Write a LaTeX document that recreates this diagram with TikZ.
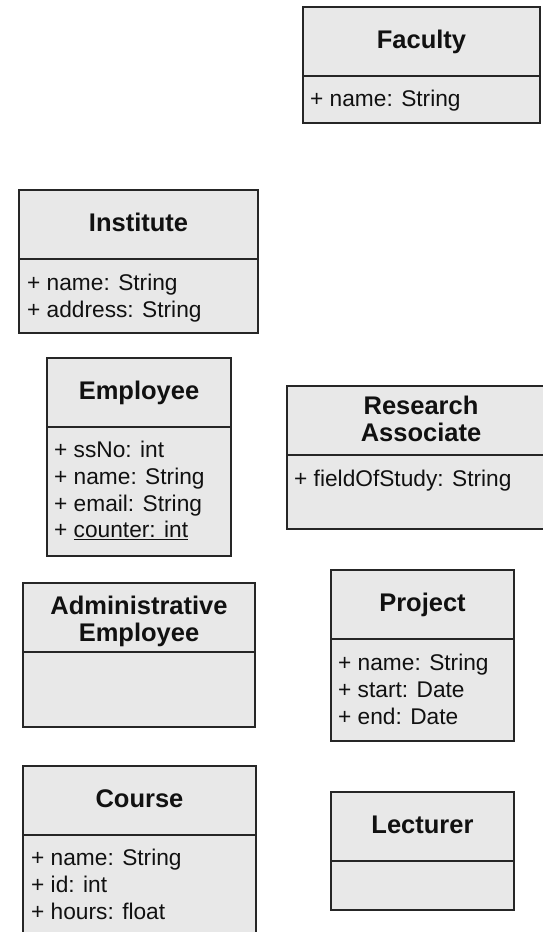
\documentclass[tikz,border=0pt]{standalone}
\usepackage{fontspec}
\setmainfont{Liberation Sans}
\usepackage{tikz}
\usetikzlibrary{positioning}
\definecolor{boxgray}{RGB}{232,232,232}
\definecolor{linedark}{RGB}{38,38,38}
\definecolor{inkdark}{RGB}{17,17,17}
\newcommand{\clstitlefont}{\fontsize{25.5}{27}\selectfont\bfseries}
\newcommand{\clsattrfont}{\fontsize{22.7}{26.7}\selectfont}
\tikzset{
  classhead/.style={rectangle, draw=linedark, fill=boxgray, line width=1.8pt,
    inner sep=0pt, outer sep=0pt, minimum height=69pt, text=inkdark,
    font=\clstitlefont, text height=18pt, text depth=5pt},
  twohead/.style={classhead, text width=#1, align=center},
  classbody/.style={rectangle, draw=linedark, fill=boxgray, line width=1.8pt,
    inner sep=0pt, outer sep=0pt},
  attrtext/.style={anchor=north west, inner sep=0pt, align=left,
    text=inkdark, font=\clsattrfont}
}

\begin{document}
\begin{tikzpicture}[x=1pt, y=-1pt]
  \path[use as bounding box, fill=white] (0,0) rectangle (542,932);

  % Faculty (top right)
  \node[classhead, minimum width=237pt, anchor=north west] (fac) at (303,7) {Faculty};
  \node[classbody, minimum width=237pt, minimum height=47pt, below=0pt of fac] (facbody) {};
  \node[attrtext] (facattr) at ([xshift=7pt, yshift=-14pt]fac.south west) {+ name: String};

  % Institute
  \node[classhead, minimum width=239pt, anchor=north west] (inst) at (19,190) {Institute};
  \node[classbody, minimum width=239pt, minimum height=74pt, below=0pt of inst] (instbody) {};
  \node[attrtext] (instattr) at ([xshift=8pt, yshift=-15pt]inst.south west)
    {+ name: String\\+ address: String};

  % Employee
  \node[classhead, minimum width=184pt, anchor=north west] (emp) at (47,358) {Employee};
  \node[classbody, minimum width=184pt, minimum height=129pt, below=0pt of emp] (empbody) {};
  \node[attrtext] (empattr) at ([xshift=7pt, yshift=-14pt]emp.south west)
    {+ ssNo: int\\+ name: String\\+ email: String\\+ \underline{counter: int}};

  % Research Associate (runs past the right edge)
  \node[twohead=250pt, minimum width=268pt, text depth=31pt, anchor=north west] (ra) at (287,386)
    {Research\\Associate};
  \node[classbody, minimum width=268pt, minimum height=74pt, below=0pt of ra] (rabody) {};
  \node[attrtext] (raattr) at ([xshift=7pt, yshift=-15pt]ra.south west) {+ fieldOfStudy: String};

  % Administrative Employee
  \node[twohead=220pt, minimum width=232pt, text depth=24pt, anchor=north west] (adm) at (23,583)
    {Administrative\\Employee};
  \node[classbody, minimum width=232pt, minimum height=75pt, below=0pt of adm] (admbody) {};

  % Project
  \node[classhead, minimum width=183pt, anchor=north west] (proj) at (331,570) {Project};
  \node[classbody, minimum width=183pt, minimum height=102pt, below=0pt of proj] (projbody) {};
  \node[attrtext] (projattr) at ([xshift=7pt, yshift=-15pt]proj.south west)
    {+ name: String\\+ start: Date\\+ end: Date};

  % Course (cut by the bottom edge)
  \node[classhead, minimum width=233pt, anchor=north west] (crs) at (23,766) {Course};
  \node[classbody, minimum width=233pt, minimum height=110pt, below=0pt of crs] (crsbody) {};
  \node[attrtext] (crsattr) at ([xshift=8pt, yshift=-14pt]crs.south west)
    {+ name: String\\+ id: int\\+ hours: float};

  % Lecturer
  \node[classhead, minimum width=183pt, anchor=north west] (lec) at (331,792) {Lecturer};
  \node[classbody, minimum width=183pt, minimum height=49pt, below=0pt of lec] (lecbody) {};
\end{tikzpicture}
\end{document}
